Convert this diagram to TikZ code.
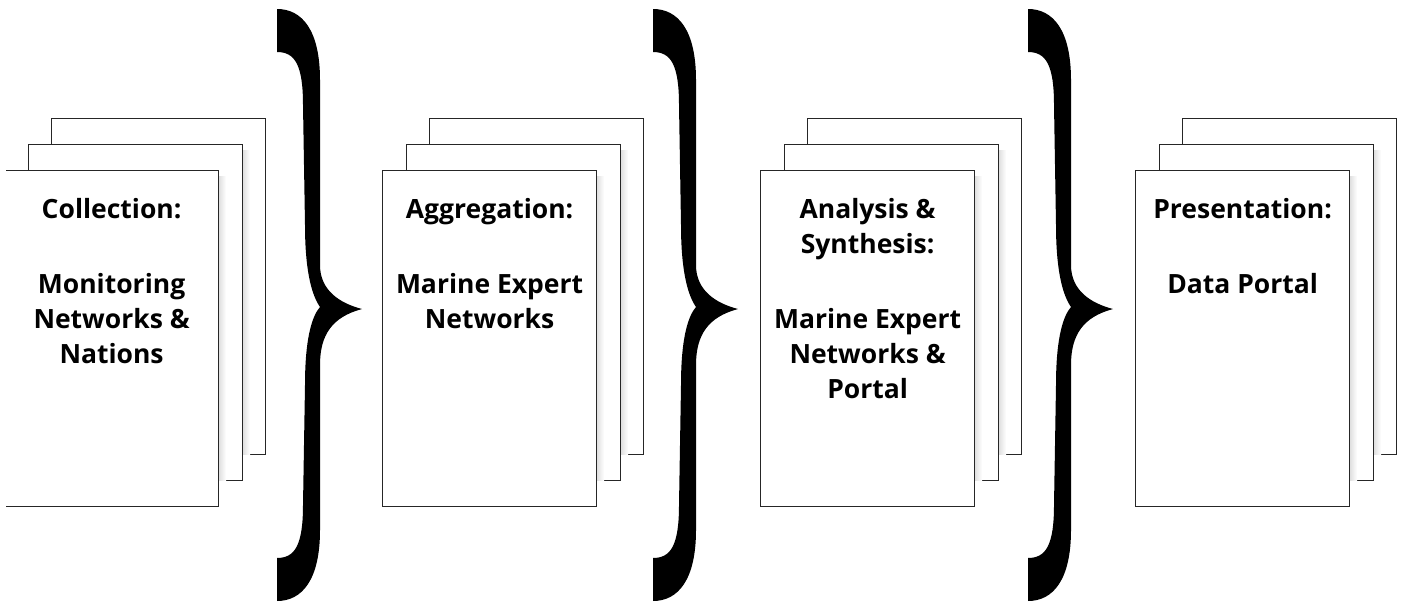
\documentclass[tikz,border=0pt]{standalone}
\usepackage{fontspec}
\setmainfont{Open Sans}
\usetikzlibrary{positioning}

\tikzset{
  page/.style={draw=black!85, fill=white, line width=1.2pt, minimum width=214pt,
    minimum height=336pt, inner sep=0pt, anchor=north west},
  pagetext/.style={anchor=north, align=center, inner sep=0pt,
    font=\fontsize{26.5}{35}\selectfont\bfseries},
  pageshadow/.style={left color=black!14, right color=white},
}

\begin{document}
\begin{tikzpicture}[x=1pt, y=-1pt]
	\useasboundingbox (0,0) rectangle (1402,603);
	\clip (6,-2) rectangle (1404,605);
	% stacks of pages: back, middle, front
	\foreach \x [count=\i] in {4,382,760,1135} {
		\node[page] (back\i) at (\x+47,118) {};
		\shade[pageshadow] (\x+238,150) rectangle (\x+246,454);
		\node[page] (mid\i) at (\x+24,144) {};
		\shade[pageshadow] (\x+214,176) rectangle (\x+222,480);
		\node[page] (front\i) at (\x,170) {};
	}
	% texts on the front pages
	\node[pagetext, below=28pt of front1.north] (collect) {Collection:\\[40pt]Monitoring\\Networks \&\\Nations};
	\node[pagetext, below=28pt of front2.north] (aggreg) {Aggregation:\\[40pt]Marine Expert\\Networks};
	\node[pagetext, below=28pt of front3.north] (analys) {Analysis \&\\Synthesis:\\[40pt]Marine Expert\\Networks \&\\Portal};
	\node[pagetext, below=28pt of front4.north] (present) {Presentation:\\[40pt]Data Portal};
	% braces between the stacks
	\foreach \x in {277,653,1028} {
		\begin{scope}[shift={(\x,305)}]
			\fill[black] (0,-296) -- (0,-253)
				.. controls (18,-253) and (26,-240) .. (26,-200)
				-- (28,-80) .. controls (28,-30) and (36,-8) .. (43,2)
				.. controls (36,10) and (28,30) .. (28,80)
				-- (26,200) .. controls (26,240) and (18,253) .. (0,253)
				-- (0,296) .. controls (25,296) and (43,275) .. (43,225)
				-- (43,60) .. controls (43,30) and (55,12) .. (85,4)
				.. controls (62,-2) and (43,-15) .. (43,-40)
				-- (43,-225) .. controls (43,-275) and (25,-296) .. (0,-296) -- cycle;
		\end{scope}
	}
\end{tikzpicture}
\end{document}
